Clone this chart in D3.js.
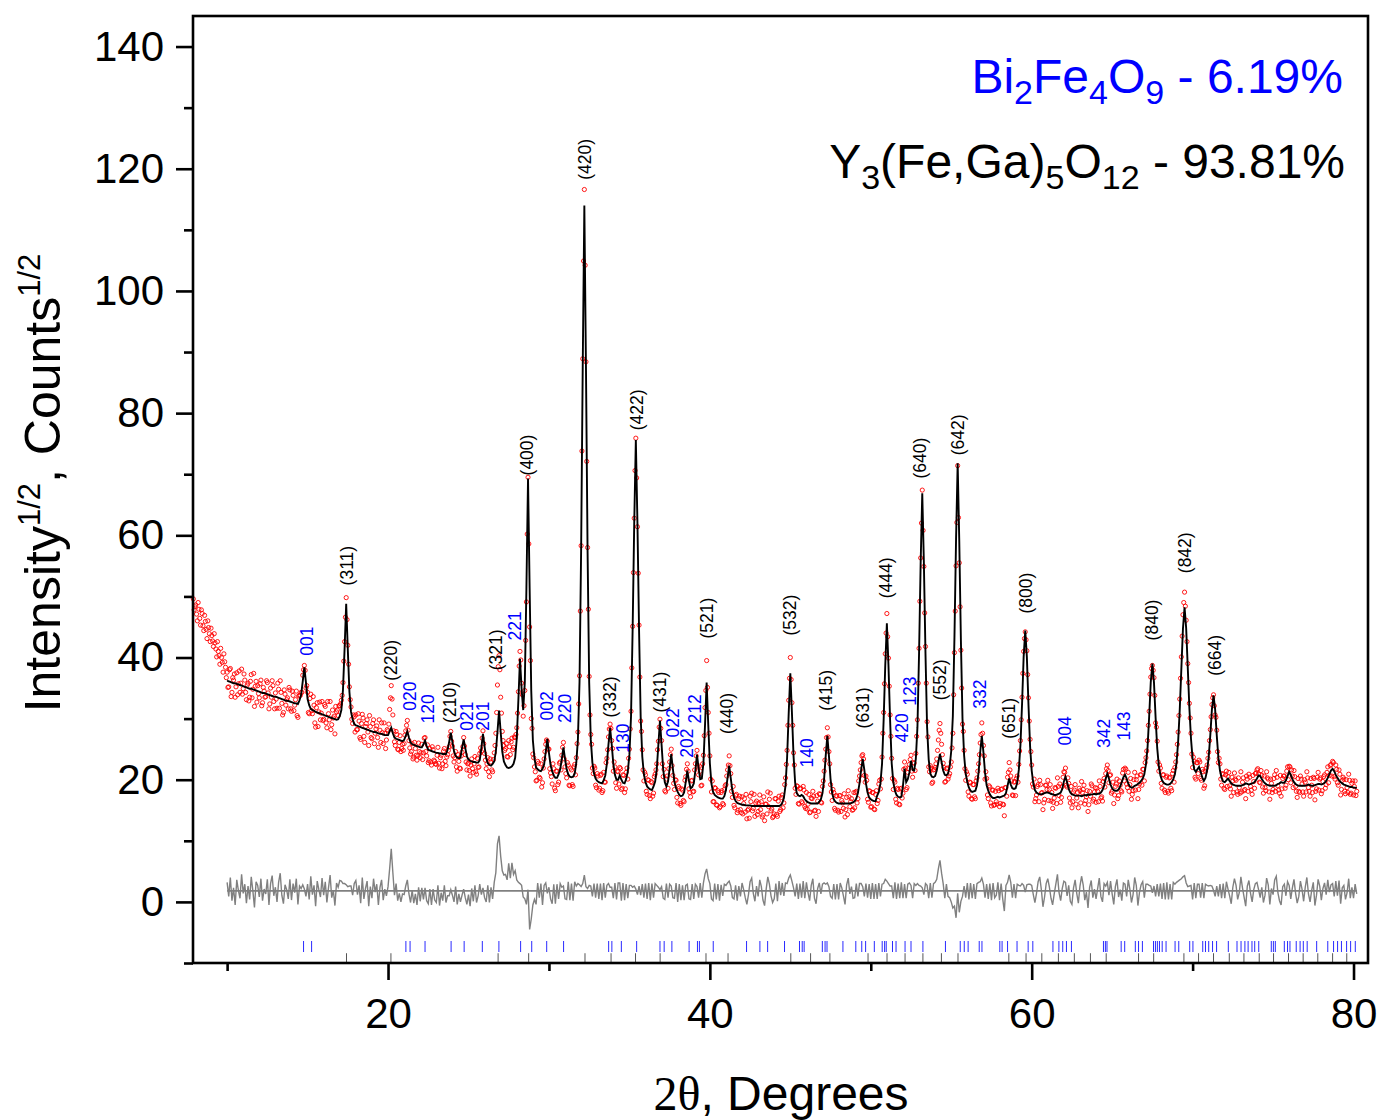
<!DOCTYPE html>
<html>
<head>
<meta charset="utf-8">
<script src="https://cdn.jsdelivr.net/npm/d3@7"></script>
<style>
  body { margin: 0; background: #fff; }
  text { font-family: "Liberation Sans", Arial, sans-serif; }
</style>
</head>
<body>
<svg id="chart" width="1378" height="1120"></svg>
<script>
// 2theta grid for the profiles
var obsStart = 7.9, midStart = 7.95, calcStart = 10.0, step = 0.1;
var diffOffset = 1.8;

// observed sqrt(intensity), 7.9 .. 80.2
var observed = [
  49.6,
  48.3,47.1,49.0,46.4,47.8,45.2,46.9,44.6,46.0,43.9,
  44.8,42.7,43.9,41.4,42.6,40.3,41.5,39.2,40.6,38.4,
  37.6,35.2,38.2,34.3,36.3,33.5,37.5,35.7,34.3,38.1,   // 10
  34.9,36.3,33.1,35.8,33.5,37.2,34.8,32.0,36.1,35.4,
  33.4,36.3,32.6,34.5,33.6,35.9,31.6,35.0,36.2,32.8,
  34.2,31.7,34.8,36.2,32.5,31.0,34.0,33.1,31.6,34.7,
  31.2,33.8,32.2,34.5,30.2,33.8,34.3,37.1,38.7,35.0,
  34.3,30.8,34.0,30.8,32.2,28.6,32.6,31.1,29.8,32.8,   // 15
  29.9,32.0,28.5,30.8,32.8,29.0,30.1,27.5,31.1,30.5,
  32.1,33.0,35.9,42.6,49.8,42.0,35.2,31.9,29.2,30.3,
  30.6,28.2,29.6,26.6,30.7,27.1,28.7,29.8,25.6,28.7,
  26.7,29.8,27.6,28.8,25.3,28.1,29.3,25.9,27.6,26.5,
  28.0,31.5,35.4,30.6,26.2,27.9,25.0,26.1,24.6,25.8,   // 20
  25.9,28.0,29.7,26.4,24.2,25.9,23.7,25.1,23.2,26.0,
  23.6,25.8,24.4,26.9,23.9,22.8,25.1,22.4,24.9,23.0,
  22.5,25.3,21.9,24.0,22.6,25.1,22.3,24.1,25.4,27.9,
  25.5,22.9,24.6,21.4,23.0,21.8,24.5,26.9,24.1,21.6,
  22.7,20.6,23.4,21.2,23.8,20.9,22.0,24.3,24.6,28.0,   // 25
  24.3,21.8,23.6,20.5,22.9,21.3,24.4,27.6,35.5,40.3,
  33.5,27.9,25.6,25.1,23.8,26.4,24.1,26.8,25.3,26.9,
  28.5,34.4,41.0,35.8,30.4,34.6,49.1,69.5,45.0,30.0,
  24.2,22.1,19.8,23.0,20.4,22.6,19.5,23.4,25.8,26.3,
  25.0,21.1,19.3,21.8,18.2,21.4,19.6,22.9,24.0,26.1,   // 30
  22.1,20.3,22.4,19.0,21.6,18.9,22.5,23.6,27.8,37.0,
  58.3,88.9,116.6,88.4,58.0,36.9,27.4,21.9,22.2,19.1,
  21.0,18.3,20.7,17.9,21.2,19.6,23.5,27.0,29.1,26.4,
  21.4,22.1,18.6,21.3,22.0,18.4,20.8,17.9,21.2,20.1,
  25.0,31.2,45.1,62.8,75.9,61.4,45.3,29.6,24.9,19.8,   // 35
  20.8,17.6,19.9,16.9,19.5,17.8,20.9,22.6,26.3,29.9,
  26.4,20.5,18.2,20.1,18.6,22.9,25.0,20.7,18.4,19.9,
  16.2,18.6,15.8,18.3,16.4,20.5,22.6,18.5,17.2,19.9,
  18.1,22.6,24.8,20.8,21.4,19.1,24.0,31.8,39.5,31.0,
  23.9,18.0,16.4,18.7,15.9,18.2,15.4,17.9,16.1,18.4,   // 40
  19.2,21.6,23.9,21.0,17.1,15.8,17.4,14.6,16.9,15.1,
  17.2,16.1,14.7,13.6,15.2,17.3,17.8,15.3,14.0,16.5,
  14.8,17.5,16.4,14.2,13.3,16.0,18.0,16.8,14.9,13.8,
  14.4,16.9,14.0,17.3,15.1,17.5,16.2,20.3,24.8,33.0,
  40.0,32.6,24.4,18.6,19.0,16.1,18.5,16.4,18.9,15.6,   // 45
  17.9,16.0,14.6,17.0,18.1,14.9,14.0,16.5,17.7,16.3,
  18.9,21.4,25.0,28.5,24.6,19.2,16.6,17.9,15.0,17.3,
  14.7,17.4,16.6,15.3,13.9,17.1,18.2,15.6,16.9,15.1,
  15.4,18.1,16.9,20.6,22.8,24.1,20.7,20.6,16.8,18.2,
  15.5,17.9,15.2,17.6,16.1,19.3,18.5,23.7,31.0,40.6,   // 50
  47.2,39.9,30.6,23.5,18.4,19.6,16.2,18.4,15.9,18.6,
  17.8,22.9,18.4,21.2,22.5,24.0,20.4,22.7,24.3,29.8,
  41.5,56.3,67.4,54.9,41.8,29.5,22.1,22.3,19.4,21.6,
  22.0,23.4,26.5,29.2,25.8,22.7,19.6,21.8,20.1,21.0,
  22.9,27.6,40.8,55.0,71.4,55.5,41.2,29.1,24.8,19.9,   // 55
  20.9,17.3,19.5,16.8,19.2,16.9,20.3,22.6,26.0,29.3,
  25.6,20.1,20.2,16.9,18.8,15.7,18.3,15.9,16.4,18.6,
  15.6,18.4,16.0,14.1,18.7,20.4,22.8,20.6,17.5,19.6,
  17.4,20.6,22.5,26.4,33.5,41.0,44.2,41.1,33.4,26.6,
  22.4,18.8,16.4,17.5,19.2,19.9,17.8,15.1,16.8,19.1,   // 60
  19.9,18.4,16.5,15.3,17.0,18.6,20.3,17.4,16.3,18.9,
  21.3,21.9,18.8,19.4,16.2,15.4,18.0,19.2,17.0,15.4,
  18.2,19.7,18.4,16.0,17.2,14.8,18.1,19.3,16.5,18.0,
  16.3,18.1,19.8,17.0,16.5,20.2,21.0,22.4,19.5,20.8,
  18.1,16.1,18.9,20.1,17.4,19.1,18.0,21.7,21.9,19.3,   // 65
  21.2,19.2,16.8,18.2,21.2,20.0,16.9,19.3,20.8,21.7,
  19.8,23.6,26.4,31.2,36.8,38.7,36.7,29.3,26.3,21.4,
  21.9,18.6,20.8,17.9,20.6,17.8,20.4,18.2,21.5,22.0,
  24.1,27.8,33.2,40.1,47.0,50.7,46.1,39.0,32.5,27.6,
  22.0,23.0,20.1,22.8,23.2,20.2,21.7,18.6,21.4,22.4,   // 70
  24.5,28.2,32.3,33.9,30.6,28.1,22.8,22.6,19.1,20.9,
  18.4,21.4,20.5,19.0,17.3,19.8,21.1,19.9,17.6,18.7,
  21.3,19.6,18.2,16.9,20.1,20.9,18.9,17.6,19.7,21.0,
  21.6,20.9,19.5,20.7,17.8,18.7,21.3,20.1,16.8,19.4,
  18.4,20.8,21.5,19.0,17.8,17.3,20.2,20.6,19.1,22.1,   // 75
  22.2,19.5,20.6,21.5,18.9,17.1,18.1,20.6,19.3,17.3,
  19.6,21.3,18.7,17.3,19.1,20.4,16.7,18.5,21.2,20.1,
  17.7,19.7,20.8,19.2,22.1,20.7,22.5,23.0,20.5,22.4,
  19.5,21.6,17.5,19.9,20.1,17.7,18.7,20.9,17.6,19.4,
  17.5,19.8,18.1
];

// observed, half-step readings, 7.95 .. 80.15
var observedMid = [
  47.8,
  48.6,46.0,47.9,45.3,47.2,44.4,45.9,43.1,44.9,42.6,
  43.6,41.8,42.4,40.1,41.0,38.9,40.0,37.6,39.3,36.7,
  35.1,38.0,33.6,36.7,37.3,35.2,33.9,37.8,35.8,34.0,   // 10
  37.3,34.3,35.5,32.9,36.1,33.4,37.4,35.3,32.7,34.1,
  35.7,32.1,35.1,33.5,36.2,34.2,32.4,33.5,35.4,31.6,
  33.2,35.8,31.7,34.3,30.6,34.7,32.2,33.4,35.1,31.6,
  34.5,31.3,33.1,30.5,33.7,33.8,34.3,38.0,37.9,35.4,
  31.0,33.3,31.3,33.6,29.3,31.8,28.7,32.7,30.9,29.7,   // 15
  32.3,29.3,32.8,29.8,28.2,31.4,30.4,32.0,31.4,32.1,
  32.4,33.8,39.4,46.6,46.2,38.9,33.1,29.9,30.6,27.8,
  28.2,30.8,26.9,29.2,30.1,26.1,29.2,27.8,30.5,26.9,
  29.2,25.9,28.3,26.9,29.8,26.1,27.7,29.3,25.1,28.2,
  29.1,33.4,33.2,28.0,25.6,27.4,24.9,27.2,25.1,24.8,   // 20
  27.3,28.9,28.1,25.2,24.6,23.4,26.1,24.0,23.9,24.6,
  24.4,23.3,26.8,24.6,25.7,23.1,22.9,25.4,23.2,22.6,
  24.0,22.7,23.6,21.8,24.7,23.0,23.7,24.8,27.1,26.3,
  23.9,23.6,22.1,24.1,21.9,23.9,25.4,25.5,22.9,22.6,
  21.5,22.4,21.8,22.6,21.3,23.5,22.1,25.2,26.8,25.9,   // 25
  23.2,22.6,21.3,23.4,21.6,23.3,25.6,31.0,38.5,38.0,
  30.9,26.4,24.8,25.9,23.7,25.4,26.2,24.9,27.0,27.4,
  30.9,38.6,39.6,33.9,32.1,42.8,60.2,58.6,39.5,28.4,
  23.6,21.3,19.9,22.7,20.2,18.8,21.9,24.6,26.5,25.0,
  21.8,20.5,22.6,18.6,21.4,19.2,22.7,21.6,25.3,23.4,   // 30
  21.0,22.8,19.1,21.9,19.2,22.1,20.8,25.9,32.4,47.6,
  73.8,104.9,104.2,72.1,47.9,30.6,25.8,21.0,21.9,18.7,
  20.6,18.6,20.9,18.2,19.6,22.8,24.9,28.3,28.4,25.1,
  22.9,19.5,21.4,19.3,21.8,18.6,20.7,18.5,21.9,23.5,
  28.3,38.3,53.9,70.6,69.4,53.8,36.8,27.9,21.6,21.2,   // 35
  18.1,20.0,17.4,19.7,17.3,20.5,21.6,24.9,28.6,28.4,
  22.6,21.7,18.0,20.6,21.8,24.1,22.3,19.4,20.0,17.1,
  18.9,16.1,18.5,16.6,19.9,21.7,21.4,17.9,19.8,18.0,
  21.6,23.9,22.1,22.2,19.0,22.6,27.2,34.6,35.1,27.6,
  20.1,19.8,16.4,18.6,15.8,17.9,15.6,18.2,15.9,19.0,   // 40
  20.6,22.4,22.3,18.1,18.9,15.4,17.6,15.0,17.3,14.6,
  14.4,16.9,17.6,15.0,13.7,16.4,14.9,17.6,16.2,14.3,
  16.2,15.1,13.9,17.2,16.0,14.4,15.6,17.8,15.2,14.0,
  16.9,14.3,16.5,14.8,17.1,15.4,19.2,22.5,28.9,36.6,
  36.4,28.9,22.4,17.6,18.9,16.0,18.6,16.2,18.3,15.3,   // 45
  15.2,17.6,14.7,16.9,17.3,15.0,17.4,14.8,17.6,16.2,
  19.8,23.2,26.9,27.0,22.6,18.0,18.4,15.3,17.4,15.0,
  17.4,14.8,16.2,17.7,15.1,14.3,17.2,16.4,15.0,17.9,
  17.9,16.2,19.8,21.6,23.9,23.4,19.6,19.9,16.3,18.1,
  15.6,17.9,15.1,18.2,16.6,19.9,20.1,27.6,35.7,44.0,   // 50
  43.4,35.3,27.1,20.2,19.9,16.8,18.6,16.0,18.5,17.0,
  21.7,21.9,18.7,21.8,23.3,21.4,22.8,21.5,27.1,35.8,
  49.2,62.0,60.8,47.3,35.8,27.0,21.3,21.9,19.6,21.7,
  22.6,24.8,28.1,27.6,24.1,22.0,19.7,21.9,20.6,22.1,
  25.2,33.9,47.6,62.1,62.9,48.3,35.0,27.9,21.8,21.3,   // 55
  18.0,19.6,16.9,19.2,17.2,19.8,21.4,24.1,27.4,27.6,
  23.9,21.3,17.5,19.0,16.2,18.3,15.8,18.1,16.0,18.2,
  16.1,18.5,15.9,18.7,17.3,21.2,21.6,19.8,17.4,19.7,
  20.2,19.6,24.7,29.8,37.4,43.1,42.9,37.2,29.6,24.6,
  19.3,20.1,16.9,18.9,16.4,19.2,17.9,16.2,19.1,18.4,   // 60
  16.6,19.2,17.9,16.3,18.7,16.1,18.9,19.3,17.1,20.4,
  21.2,19.1,20.3,17.0,18.9,16.4,18.3,16.0,17.9,18.6,
  16.2,17.9,19.1,16.6,18.2,15.9,17.3,19.0,16.8,18.7,
  18.6,16.4,18.9,17.2,19.7,18.8,21.8,21.5,20.7,17.8,
  19.6,17.5,19.3,16.9,19.8,18.2,21.1,19.8,21.7,18.7,   // 65
  18.1,20.2,17.6,20.0,18.3,20.6,18.4,20.8,19.1,21.7,
  22.8,24.7,28.9,34.0,38.2,37.9,33.8,28.6,22.9,22.4,
  19.4,20.8,18.3,20.4,18.1,20.3,18.6,21.0,19.6,22.9,
  25.8,30.5,36.6,43.5,49.0,48.4,42.6,35.9,30.1,24.2,
  23.7,20.4,22.8,21.0,22.9,19.9,21.3,19.0,21.9,23.5,   // 70
  26.4,30.3,33.4,32.1,30.2,24.6,23.5,20.1,21.0,18.6,
  20.8,18.9,21.2,18.5,20.4,17.9,20.1,18.0,20.3,17.8,
  18.0,20.3,18.4,20.6,18.1,20.4,18.3,20.7,18.6,21.1,
  21.8,19.6,21.5,18.8,20.6,18.2,20.3,18.0,20.1,17.9,
  20.2,18.1,20.4,18.3,20.7,18.5,20.6,18.6,21.4,20.0,   // 75
  22.1,21.6,18.7,20.5,18.1,20.2,17.9,20.1,18.0,20.0,
  18.0,20.3,18.1,20.2,17.9,20.2,18.1,20.4,18.3,20.3,
  18.2,20.5,18.6,21.2,19.5,22.3,20.6,22.8,20.1,21.7,
  19.1,20.9,18.4,20.4,18.1,20.0,17.9,19.9,17.8,19.8,
  18.9,17.4
];

// calculated (Rietveld) profile, 10.0 .. 80.2
var calculated = [
  36.2,36.1,36.0,35.9,35.8,35.8,35.7,35.6,35.5,35.4,   // 10
  35.3,35.2,35.1,35.0,34.9,34.9,34.8,34.7,34.6,34.5,
  34.4,34.3,34.2,34.2,34.1,34.0,33.9,33.8,33.7,33.6,
  33.6,33.5,33.4,33.3,33.2,33.1,33.0,32.9,32.9,32.8,
  32.7,32.6,32.5,32.5,32.4,33.0,33.9,36.1,38.4,35.9,
  33.2,32.2,31.6,31.4,31.3,31.1,31.0,30.9,30.8,30.7,   // 15
  30.6,30.5,30.4,30.3,30.2,30.1,30.0,29.9,29.8,29.9,
  30.4,31.4,34.7,41.4,48.8,41.3,34.4,31.1,29.9,29.1,
  28.9,28.8,28.7,28.6,28.5,28.4,28.3,28.2,28.1,28.0,
  27.9,27.8,27.8,27.7,27.6,27.5,27.5,27.4,27.3,27.3,
  27.3,27.9,28.5,27.6,26.9,26.7,26.6,26.5,26.4,26.3,   // 20
  26.5,27.2,27.9,26.9,26.1,25.8,25.7,25.6,25.5,25.4,
  25.3,25.3,25.8,26.4,25.5,24.9,24.8,24.7,24.6,24.5,
  24.4,24.4,24.3,24.3,24.2,24.2,24.2,24.9,26.2,27.7,
  26.2,24.7,23.9,23.6,23.5,23.6,25.2,26.6,25.2,23.8,
  23.3,23.1,23.0,22.9,22.9,22.8,22.8,23.2,25.2,27.5,   // 25
  25.4,23.6,22.7,22.4,22.3,22.6,23.0,24.6,27.8,31.3,
  27.8,24.6,23.0,22.4,22.0,21.9,22.0,22.2,22.6,23.6,
  26.7,33.0,39.8,34.9,31.4,35.9,51.3,69.3,51.3,34.6,
  26.5,23.5,22.0,21.7,21.5,21.4,21.8,22.5,24.5,26.7,
  24.4,22.4,21.4,20.7,20.3,20.3,20.9,21.7,23.4,25.3,   // 30
  23.4,21.7,20.9,20.5,20.4,20.5,21.0,22.8,26.6,36.0,
  57.6,87.7,114.0,87.7,57.6,36.0,26.6,22.8,21.0,20.2,
  19.8,19.6,19.5,19.4,19.9,20.7,22.6,25.8,28.5,25.8,
  22.6,20.8,20.0,20.0,20.7,20.0,19.5,19.4,20.1,21.3,
  24.1,30.3,44.5,62.0,75.6,62.0,44.5,30.3,23.8,20.9,   // 35
  19.6,18.9,18.6,18.4,18.3,18.9,19.7,21.7,25.7,29.7,
  25.7,21.7,19.6,18.9,19.7,21.8,24.2,21.8,19.6,18.6,
  18.0,17.5,17.3,17.4,17.9,19.6,21.5,19.8,18.6,18.8,
  19.4,21.5,24.1,21.9,20.1,20.2,22.7,29.0,35.9,29.0,
  22.7,19.3,18.0,17.5,17.3,17.1,17.0,16.9,16.9,17.3,   // 40
  18.3,20.3,22.3,20.2,18.2,17.1,16.5,16.2,16.1,16.0,
  15.9,15.9,15.8,15.8,15.8,15.8,15.7,15.7,15.7,15.7,
  15.7,15.7,15.7,15.7,15.7,15.7,15.7,15.7,15.7,15.7,
  15.7,15.7,15.7,15.7,15.8,16.2,17.0,19.0,23.6,30.9,
  37.4,31.0,23.9,19.5,17.8,17.4,17.3,17.5,17.3,16.8,   // 45
  16.5,16.3,16.2,16.1,16.1,16.1,16.1,16.1,16.4,16.8,
  17.8,20.1,23.9,27.2,23.9,20.1,17.8,16.8,16.4,16.2,
  16.1,16.1,16.1,16.1,16.1,16.1,16.1,16.1,16.2,16.3,
  16.5,16.9,17.8,19.4,21.6,23.4,21.6,19.4,17.9,17.1,
  16.8,16.6,16.5,16.5,17.4,18.0,19.4,22.6,29.8,38.7,   // 50
  45.6,38.7,29.8,22.7,19.6,18.2,17.5,17.2,17.1,17.2,
  19.0,21.8,19.6,20.1,21.2,23.1,21.6,21.5,23.4,28.6,
  40.6,55.5,66.9,55.5,40.6,28.6,23.3,21.0,20.5,20.4,
  20.6,21.5,22.9,24.2,22.9,21.5,20.8,20.7,21.0,22.1,
  24.7,30.4,43.3,59.4,71.8,59.0,42.9,30.0,24.0,21.0,   // 55
  19.6,18.7,18.2,18.0,18.1,18.2,19.1,21.2,24.5,27.2,
  24.5,21.2,19.1,18.2,17.6,17.2,17.0,17.0,17.1,17.2,
  17.1,17.2,17.3,17.4,17.8,19.0,20.2,19.2,18.6,18.5,
  18.6,19.5,21.6,25.6,32.3,40.1,44.4,40.1,32.3,25.5,
  21.5,19.4,18.3,17.9,17.7,17.6,17.6,17.7,17.8,17.9,   // 60
  17.9,17.8,17.7,17.6,17.5,17.5,17.6,17.7,17.9,18.5,
  19.7,20.5,19.6,18.5,17.9,17.6,17.5,17.4,17.4,17.4,
  17.4,17.3,17.4,17.5,17.4,17.6,17.5,17.6,17.6,17.7,
  17.6,17.7,17.7,17.9,18.3,19.0,20.2,21.0,20.2,19.2,
  18.6,18.3,18.2,18.2,18.4,18.9,19.6,20.4,20.8,20.2,   // 65
  19.4,18.9,18.7,18.8,19.0,19.1,19.3,19.5,19.8,20.2,
  20.9,22.5,25.3,30.3,36.0,39.0,35.9,30.2,25.2,22.3,
  20.7,19.9,19.5,19.3,19.2,19.2,19.3,19.6,20.1,20.9,
  22.7,26.2,31.4,38.1,44.7,48.2,44.8,38.3,31.7,26.7,
  23.4,21.7,21.3,21.7,22.1,21.3,20.4,19.8,20.3,21.5,   // 70
  23.7,27.3,31.5,33.8,31.5,27.3,23.7,21.5,20.3,19.7,
  19.6,19.9,20.2,19.8,19.4,19.2,19.1,19.0,19.0,19.0,
  19.0,19.1,19.2,19.4,19.3,19.2,19.3,19.4,19.5,19.8,
  20.2,20.7,20.6,20.1,19.7,19.4,19.2,19.1,19.0,19.0,
  19.0,19.0,19.1,19.3,19.4,19.6,19.5,19.5,19.9,20.6,   // 75
  21.3,20.8,20.1,19.6,19.3,19.1,19.0,19.0,19.0,19.0,
  19.0,19.1,19.2,19.1,19.0,19.0,19.1,19.2,19.3,19.3,
  19.2,19.3,19.5,19.8,20.3,20.9,21.5,21.8,21.4,20.8,
  20.3,19.9,19.6,19.4,19.2,19.1,19.0,18.9,18.8,18.8,
  18.7,18.7,18.6
];

// Bragg reflection positions (2theta)
var garnetTicks = [17.42, 20.18, 26.84, 28.74, 32.24, 33.86, 35.38, 36.91, 39.76, 41.13,
  45.03, 46.26, 47.46, 49.83, 51.01, 52.13, 53.24, 54.39, 55.42, 58.58, 59.65, 60.63,
  61.66, 62.65, 63.65, 64.63, 66.64, 67.58, 69.46, 70.37, 71.30, 72.28, 73.19, 74.14,
  75.03, 75.96, 76.87, 77.78, 78.70, 79.58];
var bifeoTicks = [14.75, 15.25, 21.11, 21.37, 22.30, 23.92, 24.73, 25.86, 26.89, 28.24,
  28.93, 29.86, 30.91, 33.71, 33.91, 34.50, 35.45, 36.90, 37.16, 37.64, 38.71, 39.23,
  39.35, 40.21, 42.28, 43.11, 43.59, 44.64, 45.57, 45.74, 45.86, 46.99, 47.16, 47.28,
  48.27, 49.07, 49.44, 49.68, 50.22, 50.71, 50.86, 50.96, 51.35, 51.57, 52.13, 52.50,
  53.24, 54.64, 55.56, 55.81, 56.05, 56.74, 56.91, 58.02, 58.16, 58.50, 59.09, 59.78,
  60.07, 61.32, 61.69, 61.93, 62.16, 62.47, 64.46, 64.58, 64.68, 65.56, 65.78, 66.44,
  66.64, 66.88, 67.57, 67.69, 67.81, 67.94, 68.11, 68.35, 68.91, 69.14, 69.82, 70.02,
  70.63, 70.80, 71.00, 71.24, 71.49, 72.22, 72.76, 73.01, 73.25, 73.45, 73.69, 73.86,
  74.11, 74.89, 75.02, 75.14, 75.70, 75.90, 76.05, 76.44, 76.68, 76.88, 77.12, 77.71,
  78.40, 78.76, 79.01, 79.25, 79.57, 79.82, 80.11];

// peak labels: [hkl, 2theta, intensity at label foot]
var garnetLabels = [
  ["(311)", 17.45, 51.8], ["(220)", 20.19, 36.2], ["(210)", 23.85, 29.3],
  ["(321)", 26.71, 37.9], ["(400)", 28.64, 69.8], ["(420)", 32.24, 118.2],
  ["(332)", 33.80, 30.2], ["(422)", 35.48, 77.2], ["(431)", 36.90, 31.0],
  ["(521)", 39.83, 43.1], ["(440)", 41.07, 27.5], ["(532)", 44.98, 43.6],
  ["(415)", 47.22, 31.3], ["(631)", 49.52, 28.4], ["(444)", 50.95, 49.7],
  ["(640)", 53.06, 69.3], ["(552)", 54.31, 33.0], ["(642)", 55.43, 73.1],
  ["(651)", 58.60, 26.7], ["(800)", 59.65, 47.2], ["(840)", 67.47, 42.8],
  ["(842)", 69.53, 53.8], ["(664)", 71.40, 37.0]
];
var bifeoLabels = [
  ["001", 14.95, 40.3], ["020", 21.37, 31.3], ["120", 22.49, 29.2],
  ["021", 24.89, 28.0], ["201", 25.90, 28.0], ["221", 27.89, 42.8],
  ["002", 29.86, 29.7], ["220", 31.00, 29.3], ["130", 34.60, 24.4],
  ["022", 37.71, 26.9], ["202", 38.56, 23.6], ["212", 39.08, 29.2],
  ["140", 46.02, 22.0], ["420", 51.93, 26.1], ["123", 52.44, 32.1],
  ["332", 56.80, 31.6], ["004", 62.08, 25.6], ["342", 64.50, 25.2],
  ["143", 65.70, 26.4]
];

var yMajor = [0, 20, 40, 60, 80, 100, 120, 140];
var yMinor = [-10, 10, 30, 50, 70, 90, 110, 130];
var xMajor = [20, 40, 60, 80];
var xMinor = [10, 30, 50, 70];

var obsData = observed.map(function(v, i) { return {x: +(obsStart + i * step).toFixed(2), y: v}; })
  .concat(observedMid.map(function(v, i) { return {x: +(midStart + i * step).toFixed(2), y: v}; }));
var calcData = calculated.map(function(v, i) { return {x: +(calcStart + i * step).toFixed(2), y: v}; });
var shift = Math.round((calcStart - obsStart) / step);
var diffData = calculated.map(function(v, i) {
  return {x: calcData[i].x, y: observed[i + shift] - v + diffOffset};
});

var svg = d3.select("#chart");
var plotLeft = 193, plotRight = 1368, plotTop = 16, plotBottom = 963;

var x = d3.scaleLinear().domain([7.88, 80.9]).range([plotLeft, plotRight]);
var y = d3.scaleLinear().domain([-10, 145]).range([plotBottom, plotTop]);

var line = d3.line()
  .x(function(d) { return x(d.x); })
  .y(function(d) { return y(d.y); });

// difference curve and its zero line
svg.append("line")
  .attr("x1", x(calcData[0].x)).attr("x2", x(calcData[calcData.length - 1].x))
  .attr("y1", y(diffOffset)).attr("y2", y(diffOffset))
  .attr("stroke", "#808080").attr("stroke-width", 1.6);

svg.append("path")
  .datum(diffData)
  .attr("d", line)
  .attr("fill", "none")
  .attr("stroke", "#808080")
  .attr("stroke-width", 1.4);

// observed points
svg.append("g").selectAll("circle")
  .data(obsData)
  .enter().append("circle")
    .attr("cx", function(d) { return x(d.x); })
    .attr("cy", function(d) { return y(d.y); })
    .attr("r", 2.1)
    .attr("fill", "none")
    .attr("stroke", "#ff0000")
    .attr("stroke-width", 0.9);

// calculated profile
svg.append("path")
  .datum(calcData)
  .attr("d", line)
  .attr("fill", "none")
  .attr("stroke", "#000")
  .attr("stroke-width", 1.9);

// Bragg ticks
svg.append("g").selectAll("line")
  .data(bifeoTicks)
  .enter().append("line")
    .attr("x1", function(d) { return x(d); }).attr("x2", function(d) { return x(d); })
    .attr("y1", y(-6.4)).attr("y2", y(-8.2))
    .attr("stroke", "#2a2aff").attr("stroke-width", 1);

svg.append("g").selectAll("line")
  .data(garnetTicks)
  .enter().append("line")
    .attr("x1", function(d) { return x(d); }).attr("x2", function(d) { return x(d); })
    .attr("y1", y(-8.4)).attr("y2", y(-10))
    .attr("stroke", "#555").attr("stroke-width", 1);

// peak labels
function addLabels(data, color) {
  svg.append("g").selectAll("text")
    .data(data)
    .enter().append("text")
      .attr("transform", function(d) { return "translate(" + x(d[1]) + "," + y(d[2]) + ") rotate(-90)"; })
      .attr("dy", "0.35em")
      .attr("font-size", 17.5)
      .attr("fill", color)
      .text(function(d) { return d[0]; });
}
addLabels(garnetLabels, "#000");
addLabels(bifeoLabels, "#0000ff");

// axes
function styleAxis(g, fontSize) {
  g.select(".domain").remove();
  g.selectAll(".tick line").attr("stroke", "#000").attr("stroke-width", 2.6);
  g.selectAll(".tick text")
    .attr("font-size", fontSize)
    .attr("font-family", "Liberation Sans, Arial, sans-serif")
    .attr("fill", "#000");
}

svg.append("g")
  .attr("transform", "translate(" + plotLeft + ",0)")
  .call(d3.axisLeft(y).tickValues(yMajor).tickSize(17).tickPadding(12).tickFormat(d3.format("d")))
  .call(styleAxis, 42);

svg.append("g")
  .attr("transform", "translate(" + plotLeft + ",0)")
  .call(d3.axisLeft(y).tickValues(yMinor).tickSize(9).tickFormat(""))
  .call(styleAxis, 42);

svg.append("g")
  .attr("transform", "translate(0," + plotBottom + ")")
  .call(d3.axisBottom(x).tickValues(xMajor).tickSize(17).tickPadding(18).tickFormat(d3.format("d")))
  .call(styleAxis, 42);

svg.append("g")
  .attr("transform", "translate(0," + plotBottom + ")")
  .call(d3.axisBottom(x).tickValues(xMinor).tickSize(8).tickFormat(""))
  .call(styleAxis, 42);

svg.append("rect")
  .attr("x", plotLeft).attr("y", plotTop)
  .attr("width", plotRight - plotLeft).attr("height", plotBottom - plotTop)
  .attr("fill", "none").attr("stroke", "#000").attr("stroke-width", 2.6);

// axis titles
var yTitle = svg.append("text")
  .attr("transform", "translate(60,483) rotate(-90)")
  .attr("text-anchor", "middle")
  .attr("font-size", 50);
yTitle.append("tspan").text("Intensity");
yTitle.append("tspan").attr("font-size", 31).attr("dy", -20).text("1/2");
yTitle.append("tspan").attr("dy", 20).text(", Counts");
yTitle.append("tspan").attr("font-size", 31).attr("dy", -20).text("1/2");

var xTitle = svg.append("text")
  .attr("x", 781).attr("y", 1110)
  .attr("text-anchor", "middle")
  .attr("font-size", 48);
xTitle.append("tspan").attr("font-family", "Liberation Serif, Times New Roman, serif").text("2θ");
xTitle.append("tspan").text(", Degrees");

// phase fractions
function formula(parts, xPos, yPos, color) {
  var t = svg.append("text")
    .attr("x", xPos).attr("y", yPos)
    .attr("text-anchor", "end")
    .attr("font-size", 48)
    .attr("fill", color);
  var low = false;
  parts.forEach(function(p) {
    var sub = p[1];
    var dy = sub && !low ? 11 : (!sub && low ? -11 : 0);
    low = sub;
    t.append("tspan").attr("dy", dy).attr("font-size", sub ? 34 : 48).text(p[0]);
  });
}
formula([["Bi", 0], ["2", 1], ["Fe", 0], ["4", 1], ["O", 0], ["9", 1], [" - 6.19%", 0]], 1343, 93, "#0000ff");
formula([["Y", 0], ["3", 1], ["(Fe,Ga)", 0], ["5", 1], ["O", 0], ["12", 1], [" - 93.81%", 0]], 1345, 178, "#000");
</script>
</body>
</html>
